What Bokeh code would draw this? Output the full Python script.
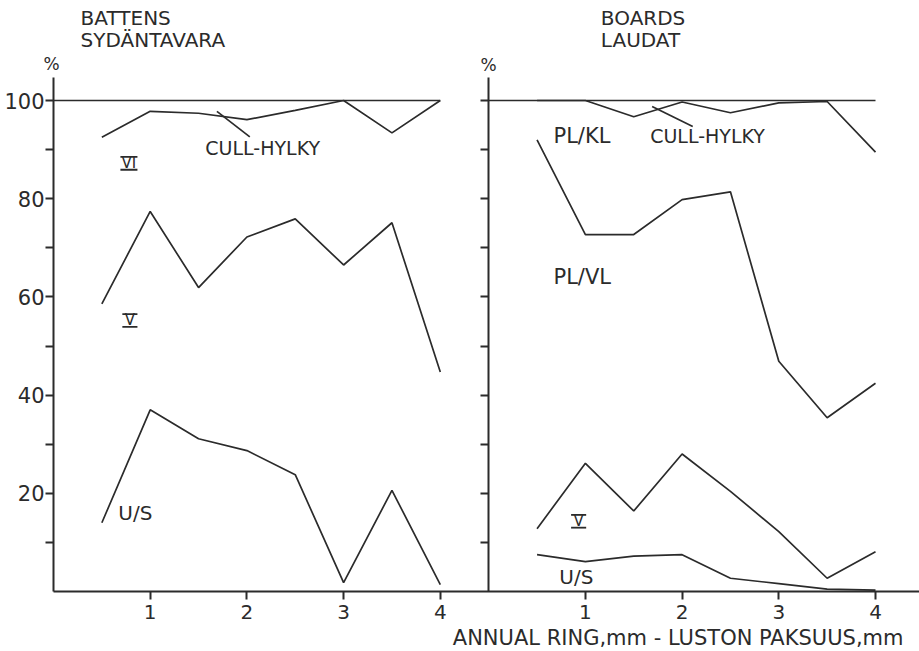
from bokeh.plotting import figure
from bokeh.models import Range1d, LinearAxis, FixedTicker
from bokeh.embed import file_html
from bokeh.resources import INLINE
from bokeh.core.properties import value

# ---------------- data ----------------
ring = [0.5, 1, 1.5, 2, 2.5, 3, 3.5, 4]          # annual ring width, mm

battens_cull = [92.5, 97.8, 97.4, 96.1, 98.0, 100.0, 93.4, 100.0]
battens_v = [58.6, 77.4, 61.9, 72.2, 75.9, 66.5, 75.1, 44.7]
battens_us = [14.0, 37.0, 31.1, 28.7, 23.8, 1.8, 20.6, 1.4]

boards_cull = [100.0, 100.0, 96.7, 99.7, 97.5, 99.5, 99.8, 89.5]
boards_plvl = [92.0, 72.7, 72.7, 79.8, 81.4, 46.9, 35.4, 42.4]
boards_v = [12.8, 26.1, 16.4, 28.0, 20.4, 12.2, 2.7, 8.1]
boards_us = [7.5, 6.1, 7.2, 7.5, 2.7, 1.6, 0.5, 0.3]

ref_x = [0, 4]          # 100 % reference line
ref_y = [100, 100]

x_ticks = [1, 2, 3, 4]
y_major = [20, 40, 60, 80, 100]
y_minor = [10, 30, 50, 70, 90]
right_y_ticks = [10, 20, 30, 40, 50, 60, 70, 80, 90, 100]

# ---------------- layout constants ----------------
W, H = 919, 651
PX_X = 96.7           # px per mm
PX_Y = 4.91           # px per percent
LEFT_ORIGIN = 53.0
RIGHT_ORIGIN = 488.2
ZERO_Y = 591.0

INK = "#2b2b2b"
FONT = value("DejaVu Sans")

x_left = Range1d(-LEFT_ORIGIN / PX_X, (W - LEFT_ORIGIN) / PX_X)
x_right = Range1d(-RIGHT_ORIGIN / PX_X, (W - RIGHT_ORIGIN) / PX_X)
y_rng = Range1d(-(H - ZERO_Y) / PX_Y, ZERO_Y / PX_Y)

p = figure(width=W, height=H, x_range=x_left, y_range=y_rng,
           x_axis_type=None, y_axis_type=None,
           output_backend="svg", toolbar_location=None, min_border=0)
p.extra_x_ranges = {"right": x_right}
p.outline_line_color = None
p.background_fill_color = "white"
p.border_fill_color = "white"


def style_axis(ax, size="20px"):
    ax.axis_line_color = INK
    ax.axis_line_width = 2
    ax.major_tick_line_color = INK
    ax.major_tick_line_width = 2
    ax.minor_tick_line_color = INK
    ax.minor_tick_line_width = 2
    ax.major_tick_in = 0
    ax.minor_tick_in = 0
    ax.major_tick_out = 8
    ax.minor_tick_out = 8
    ax.major_label_text_font = "DejaVu Sans"
    ax.major_label_text_font_size = size
    ax.major_label_text_color = INK


top = 104.7
# left y axis
yl = LinearAxis(fixed_location=0, bounds=(0, top),
                ticker=FixedTicker(ticks=y_major, minor_ticks=y_minor))
style_axis(yl, "21px")
yl.major_label_standoff = 1
p.add_layout(yl, "left")

# right y axis (unlabelled ticks, drawn as minor ticks)
yr = LinearAxis(fixed_location=0, bounds=(0, top), x_range_name="right",
                ticker=FixedTicker(ticks=[], minor_ticks=right_y_ticks))
style_axis(yr)
p.add_layout(yr, "left")

# bottom axis: left panel
xa = LinearAxis(fixed_location=0, bounds=(0, x_left.end),
                ticker=FixedTicker(ticks=x_ticks))
style_axis(xa)
xa.major_label_standoff = 5
p.add_layout(xa, "below")

# bottom axis: right panel ticks
xb = LinearAxis(fixed_location=0, x_range_name="right",
                ticker=FixedTicker(ticks=x_ticks))
style_axis(xb)
xb.axis_line_color = None
xb.major_label_standoff = 5
p.add_layout(xb, "below")

# ---------------- lines ----------------
lw = 1.7
p.line(ref_x, ref_y, line_color=INK, line_width=lw)
for ys in (battens_cull, battens_v, battens_us):
    p.line(ring, ys, line_color=INK, line_width=lw)

p.line(ref_x, ref_y, line_color=INK, line_width=lw, x_range_name="right")
for ys in (boards_cull, boards_plvl, boards_v, boards_us):
    p.line(ring, ys, line_color=INK, line_width=lw, x_range_name="right")

# leader lines for CULL-HYLKY
p.segment(x0=[1.69], y0=[97.8], x1=[2.03], y1=[92.6], line_color=INK, line_width=lw)
p.segment(x0=[1.69], y0=[98.8], x1=[2.11], y1=[94.7], line_color=INK, line_width=lw,
          x_range_name="right")

# ---------------- texts ----------------
def txt(xs, ys, texts, size="19px", align="left", rng="default"):
    p.text(x=xs, y=ys, text=texts, text_font=FONT, text_font_size=size,
           text_color=INK, text_align=align, text_baseline="middle",
           x_range_name=rng)

# titles
txt([0.28, 0.28], [116.9, 112.4], ["BATTENS", "SYDÄNTAVARA"], size="20px")
txt([1.16, 1.16], [116.9, 112.4], ["BOARDS", "LAUDAT"], size="20px", rng="right")
# percent signs
txt([-0.02], [107.4], ["%"], size="17px", align="center")
txt([0.0], [107.2], ["%"], size="17px", align="center", rng="right")

# series labels, left
txt([1.57], [90.4], ["CULL-HYLKY"])
txt([0.67], [16.0], ["U/S"], size="20px")
# series labels, right
txt([1.67], [92.7], ["CULL-HYLKY"], rng="right")
txt([0.67], [92.7], ["PL/KL"], size="21px", rng="right")
txt([0.67], [64.0], ["PL/VL"], size="21px", rng="right")
txt([0.73], [2.9], ["U/S"], size="20px", rng="right")

# roman numerals with bars
roman_left = (["VI", "V"], [0.78, 0.79], [87.2, 55.2], [0.088, 0.078])
roman_right = (["V"], [0.93], [14.3], [0.078])
bar_dy = 1.3
for (labels, rx, ry, hw), rng in ((roman_left, "default"), (roman_right, "right")):
    txt(rx, ry, labels, size="15px", align="center", rng=rng)
    x0 = [a - h for a, h in zip(rx, hw)]
    x1 = [a + h for a, h in zip(rx, hw)]
    for sgn in (1, -1):
        yy = [b + sgn * bar_dy for b in ry]
        p.segment(x0=x0, y0=yy, x1=x1, y1=yy, line_color=INK, line_width=1.8,
                  x_range_name=rng)

# x-axis caption
txt([8.79], [-9.4], ["ANNUAL RING,mm - LUSTON PAKSUUS,mm"], size="21px", align="right")

open("out.html", "w").write(file_html(p, INLINE))
